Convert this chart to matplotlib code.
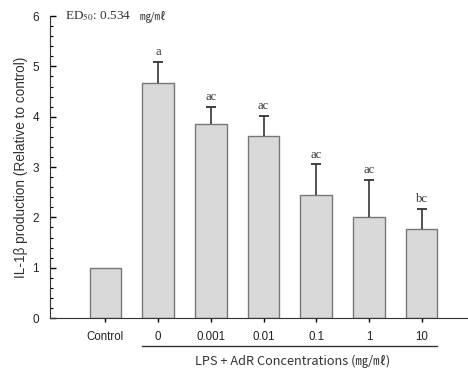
import numpy as np
import matplotlib
matplotlib.use("Agg")
import matplotlib.pyplot as plt
from matplotlib.ticker import MultipleLocator

plt.rcParams['mathtext.fontset'] = 'stix'

# IL-1b production relative to control
groups = ["Control", "0", "0.001", "0.01", "0.1", "1", "10"]
means = [1.0, 4.68, 3.85, 3.62, 2.45, 2.01, 1.76]
sds = [0.0, 0.41, 0.35, 0.40, 0.61, 0.74, 0.41]
letters = ["", "a", "ac", "ac", "ac", "ac", "bc"]
ed50 = 0.534

sans = ['Liberation Sans', 'DejaVu Sans']
kr = ['Noto Sans CJK KR', 'DejaVu Sans']

fig = plt.figure(figsize=(4.68, 3.70), dpi=100)
ax = fig.add_axes([0.107, 0.1405, 0.893, 0.816])

x = np.arange(len(groups))
w = 0.6
ax.bar(x, means, width=w, color='#d9d9d9', edgecolor='#777777', linewidth=1.0, zorder=2)

# upper error bars only (stem + cap at the top)
for xi, m, s in zip(x, means, sds):
    if s > 0:
        ax.vlines(xi, m, m + s, color='#333333', linewidth=1.2, zorder=3)
        ax.plot(xi, m + s, marker='_', markersize=6.5, markeredgewidth=1.3,
                color='#333333', zorder=3)

for xi, m, s, lab in zip(x, means, sds, letters):
    if lab:
        ax.text(xi, m + s + 0.07, lab, ha='center', va='bottom', fontsize=9,
                family=['Liberation Serif'], color='#333333')

ax.set_xlim(-1.05, 6.88)
ax.set_ylim(0, 6)
ax.yaxis.set_major_locator(MultipleLocator(1))
ax.yaxis.set_minor_locator(MultipleLocator(0.2))
ax.tick_params(axis='y', which='major', direction='in', length=4, width=1, labelsize=8.5, pad=8)
ax.tick_params(axis='y', which='minor', direction='in', length=2.5, width=0.8)
ax.set_xticks(x)
ax.set_xticklabels(groups)
ax.tick_params(axis='x', direction='out', length=3, width=1, labelsize=8.3, pad=6)
for t in ax.get_xticklabels() + ax.get_yticklabels():
    t.set_family(sans)
    t.set_color('#222222')

ax.spines['top'].set_visible(False)
ax.spines['right'].set_visible(False)
ax.spines['left'].set_color('#333333')
ax.spines['bottom'].set_color('#333333')

ax.set_ylabel("IL-1β production (Relative to control)", fontsize=9.8, family=sans,
              color='#333333', labelpad=3)

# bracket line under the LPS-treated groups
trans = ax.get_xaxis_transform()
ax.plot([1 - w / 2, 6 + w / 2], [-0.093, -0.093], transform=trans, color='#333333',
        linewidth=1.0, clip_on=False)
ax.text(3.55, -0.145, "LPS + AdR Concentrations (㎎/㎖)", transform=trans, ha='center',
        va='center', fontsize=9.2, family=kr, color='#333333')

ed = ax.text(0.035, 1.0, "ED$_{\\mathrm{50}}$: %.3f" % ed50, transform=ax.transAxes,
             ha='left', va='center', fontsize=9.5, family=['Liberation Serif'], color='#333333')
ax.annotate("㎎/㎖", xy=(1, 0.5), xycoords=ed, xytext=(6, 0), textcoords='offset points',
            ha='left', va='center', fontsize=8, family=kr, color='#333333')

fig.savefig("out.png", dpi=100)
